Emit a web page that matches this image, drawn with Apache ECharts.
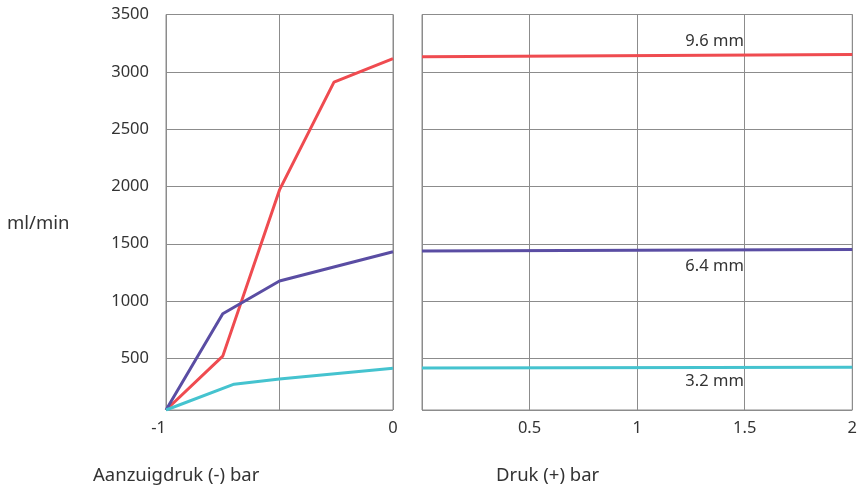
<!DOCTYPE html>
<html>
<head>
<meta charset="utf-8">
<script src="https://cdn.jsdelivr.net/npm/echarts@6/dist/echarts.min.js"></script>
<style>
  html, body { margin: 0; padding: 0; background: #fff; }
  #chart-box { width: 860px; height: 488px; }
</style>
</head>
<body>
<div id="chart-box"></div>
<script>
  // zuigzijde (-1 .. 0 bar)
  const suctionRed = [[-1, 50], [-0.75, 520], [-0.5, 1970], [-0.26, 2910], [0, 3115]];
  const suctionPurple = [[-1, 50], [-0.75, 890], [-0.5, 1175], [0, 1430]];
  const suctionCyan = [[-1, 50], [-0.7, 275], [-0.5, 320], [0, 415]];

  // perszijde (0 .. 2 bar)
  const pressRed = [[0, 3132], [2, 3150]];
  const pressPurple = [[0, 1436], [2, 1450]];
  const pressCyan = [[0, 416], [2, 422]];

  const seriesNames = ['9.6 mm', '6.4 mm', '3.2 mm'];
  const colors = ['#ef4b50', '#5a4da3', '#45c3cf'];
  const labelX = 1.36;
  const labelOffsets = [-15, 15, 13];

  const gridColor = '#8c8c8c';
  const textColor = '#333';
  const font = 'Noto Sans';
  const tickSize = 16.5;
  const titleSize = 18.5;

  let myChart = echarts.init(document.getElementById('chart-box'));

  function lineSeries(name, data, color, axisIdx) {
    return {
      name: name,
      type: 'line',
      xAxisIndex: axisIdx,
      yAxisIndex: axisIdx,
      data: data,
      symbol: 'none',
      lineStyle: { color: color, width: 3 },
      itemStyle: { color: color },
      silent: true,
      animation: false
    };
  }

  let series = [
    lineSeries(seriesNames[0], suctionRed, colors[0], 0),
    lineSeries(seriesNames[1], suctionPurple, colors[1], 0),
    lineSeries(seriesNames[2], suctionCyan, colors[2], 0)
  ];
  let pressData = [pressRed, pressPurple, pressCyan];
  pressData.forEach(function (d, i) {
    let s = lineSeries(seriesNames[i], d, colors[i], 1);
    s.markPoint = {
      symbol: 'circle',
      symbolSize: 0,
      animation: false,
      data: [{
        coord: [labelX, d[0][1]],
        label: {
          show: true,
          formatter: seriesNames[i],
          offset: [0, labelOffsets[i]],
          color: textColor,
          fontSize: tickSize,
          fontFamily: font
        }
      }]
    };
    series.push(s);
  });

  function yAxis(idx, showLabels) {
    return {
      type: 'value',
      gridIndex: idx,
      min: 50,
      max: 3500,
      splitNumber: 7,
      axisLine: { show: false },
      axisTick: { show: false },
      axisLabel: {
        show: showLabels,
        showMinLabel: false,
        margin: 17,
        color: textColor,
        fontSize: tickSize,
        fontFamily: font,
        formatter: function (v) { return String(v); }
      },
      splitLine: { lineStyle: { color: gridColor, width: 1 } }
    };
  }

  let option = {
    backgroundColor: '#fff',
    animation: false,
    grid: [
      { left: 166, right: 467, top: 14.5, bottom: 78, show: true, borderColor: gridColor, borderWidth: 1 },
      { left: 422, right: 5, top: 14.5, bottom: 78, show: true, borderColor: gridColor, borderWidth: 1 }
    ],
    xAxis: [
      {
        type: 'value',
        gridIndex: 0,
        min: -1,
        max: 0,
        interval: 0.5,
        axisLine: { show: false },
        axisTick: { show: false },
        axisLabel: {
          margin: 10,
          alignMinLabel: 'right',
          color: textColor,
          fontSize: tickSize,
          fontFamily: font,
          formatter: function (v) { return v === -0.5 ? '' : String(v); }
        },
        splitLine: { lineStyle: { color: gridColor, width: 1 } }
      },
      {
        type: 'value',
        gridIndex: 1,
        min: 0,
        max: 2,
        interval: 0.5,
        axisLine: { show: false },
        axisTick: { show: false },
        axisLabel: {
          margin: 10,
          showMinLabel: false,
          color: textColor,
          fontSize: tickSize,
          fontFamily: font
        },
        splitLine: { lineStyle: { color: gridColor, width: 1 } }
      }
    ],
    yAxis: [yAxis(0, true), yAxis(1, false)],
    graphic: [
      { type: 'text', left: 7, top: 214, style: { text: 'ml/min', fill: textColor, fontSize: titleSize, fontFamily: font } },
      { type: 'text', left: 93, top: 466, style: { text: 'Aanzuigdruk (-) bar', fill: textColor, fontSize: titleSize, fontFamily: font } },
      { type: 'text', left: 496, top: 466, style: { text: 'Druk (+) bar', fill: textColor, fontSize: titleSize, fontFamily: font } }
    ],
    series: series
  };

  myChart.setOption(option, true);
</script>
</body>
</html>
